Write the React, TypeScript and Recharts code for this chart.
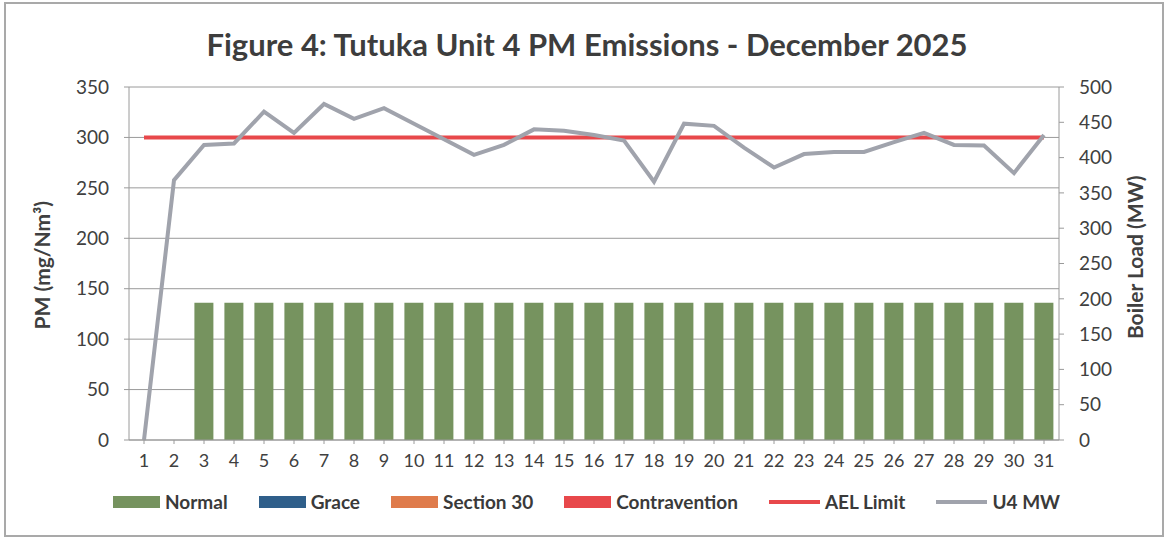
import React from 'react';
import {
  Bar,
  CartesianGrid,
  ComposedChart,
  Line,
  XAxis,
  YAxis,
} from 'recharts';

const days = [
  '1', '2', '3', '4', '5', '6', '7', '8', '9', '10', '11', '12', '13', '14', '15', '16',
  '17', '18', '19', '20', '21', '22', '23', '24', '25', '26', '27', '28', '29', '30', '31',
];

// PM (mg/Nm3) per day, split by compliance status
const normalPm = [
  null, null, 136, 136, 136, 136, 136, 136, 136, 136, 136, 136, 136, 136, 136, 136,
  136, 136, 136, 136, 136, 136, 136, 136, 136, 136, 136, 136, 136, 136, 136,
];
const gracePm: (number | null)[] = [];
const section30Pm: (number | null)[] = [];
const contraventionPm: (number | null)[] = [];

const aelLimit = 300;

// boiler load (MW)
const u4Mw = [
  0, 368, 418, 420, 465, 435, 476, 455, 470, 448, 426, 404, 418, 440, 438, 432,
  424, 366, 448, 445, 414, 386, 405, 408, 408, 422, 435, 418, 417, 378, 432,
];

const pmTicks = [0, 50, 100, 150, 200, 250, 300, 350];
const mwTicks = [0, 50, 100, 150, 200, 250, 300, 350, 400, 450, 500];

const GREEN = '#76935f';
const BLUE = '#2f5f8a';
const ORANGE = '#df7b4b';
const RED = '#e8484b';
const GREY = '#a0a3ac';
const TEXT = '#404040';
const FONT = 'Lato, "Open Sans", sans-serif';

const chartData = days.map((day, i) => ({
  day,
  normal: normalPm[i] ?? null,
  grace: gracePm[i] ?? null,
  section30: section30Pm[i] ?? null,
  contravention: contraventionPm[i] ?? null,
  ael: aelLimit,
  mw: u4Mw[i],
}));

const legendItems = [
  { label: 'Normal', color: GREEN, kind: 'box' },
  { label: 'Grace', color: BLUE, kind: 'box' },
  { label: 'Section 30', color: ORANGE, kind: 'box' },
  { label: 'Contravention', color: RED, kind: 'box' },
  { label: 'AEL Limit', color: RED, kind: 'line' },
  { label: 'U4 MW', color: GREY, kind: 'line' },
];

const tickStyle = { fill: TEXT, fontSize: 19, fontFamily: FONT };

export default function App() {
  return (
    <div
      style={{
        position: 'absolute',
        left: 0,
        top: 0,
        width: 1167,
        height: 538,
        background: '#fff',
        fontFamily: FONT,
      }}>
      <div
        style={{
          position: 'absolute',
          left: 4,
          top: 2,
          width: 1156,
          height: 531,
          border: '2px solid #a9a9a9',
        }}
      />
      <div
        style={{
          position: 'absolute',
          left: 0,
          top: 25,
          width: 1174,
          textAlign: 'center',
          fontSize: 31,
          fontWeight: 700,
          color: '#3d3d3d',
        }}>
        Figure 4: Tutuka Unit 4 PM Emissions - December 2025
      </div>
      <div style={{ position: 'absolute', left: 0, top: 0 }}>
        <ComposedChart
          width={1167}
          height={538}
          data={chartData}
          barCategoryGap='18%'
          margin={{ top: 87, right: 48, bottom: 68, left: 69 }}>
          <CartesianGrid
            yAxisId='pm'
            vertical={false}
            stroke='#9a9a9a'
            horizontalValues={pmTicks}
          />
          <XAxis
            dataKey='day'
            interval={0}
            height={30}
            tick={{ ...tickStyle, fontSize: 18 }}
            tickMargin={10}
            tickSize={4}
            stroke='#9a9a9a'
          />
          <YAxis
            yAxisId='pm'
            domain={[0, 350]}
            ticks={pmTicks}
            width={60}
            tick={tickStyle}
            tickSize={5}
            tickMargin={15}
            stroke='#9a9a9a'
            label={{
              value: 'PM (mg/Nm³)',
              angle: -90,
              position: 'insideLeft',
              dx: -31,
              dy: 66,
              style: { fill: TEXT, fontSize: 21, fontWeight: 700, fontFamily: FONT },
            }}
          />
          <YAxis
            yAxisId='mw'
            orientation='right'
            domain={[0, 500]}
            ticks={mwTicks}
            width={60}
            tick={tickStyle}
            tickSize={5}
            tickMargin={15}
            stroke='#9a9a9a'
            label={{
              value: 'Boiler Load (MW)',
              angle: -90,
              position: 'insideRight',
              dx: 22,
              dy: -88,
              style: { fill: TEXT, fontSize: 21, fontWeight: 700, fontFamily: FONT },
            }}
          />
          <Bar yAxisId='pm' dataKey='normal' stackId='pm' fill={GREEN} isAnimationActive={false} />
          <Bar yAxisId='pm' dataKey='grace' stackId='pm' fill={BLUE} isAnimationActive={false} />
          <Bar yAxisId='pm' dataKey='section30' stackId='pm' fill={ORANGE} isAnimationActive={false} />
          <Bar yAxisId='pm' dataKey='contravention' stackId='pm' fill={RED} isAnimationActive={false} />
          <Line
            yAxisId='pm'
            dataKey='ael'
            stroke={RED}
            strokeWidth={4}
            dot={false}
            isAnimationActive={false}
          />
          <Line
            yAxisId='mw'
            dataKey='mw'
            type='linear'
            stroke={GREY}
            strokeWidth={4}
            dot={false}
            isAnimationActive={false}
          />
        </ComposedChart>
      </div>
      <div
        style={{
          position: 'absolute',
          left: 113,
          top: 490,
          display: 'flex',
          fontSize: 19,
          fontWeight: 700,
          color: '#3a3a3a',
          whiteSpace: 'nowrap',
        }}>
        {legendItems.map((item) => (
          <div
            key={item.label}
            style={{ display: 'flex', alignItems: 'center', marginRight: 31 }}>
            <span
              style={{
                display: 'inline-block',
                width: item.kind === 'box' ? 47 : 51,
                height: item.kind === 'box' ? 12 : 4,
                background: item.color,
                marginRight: 5,
              }}
            />
            <span>{item.label}</span>
          </div>
        ))}
      </div>
    </div>
  );
}
